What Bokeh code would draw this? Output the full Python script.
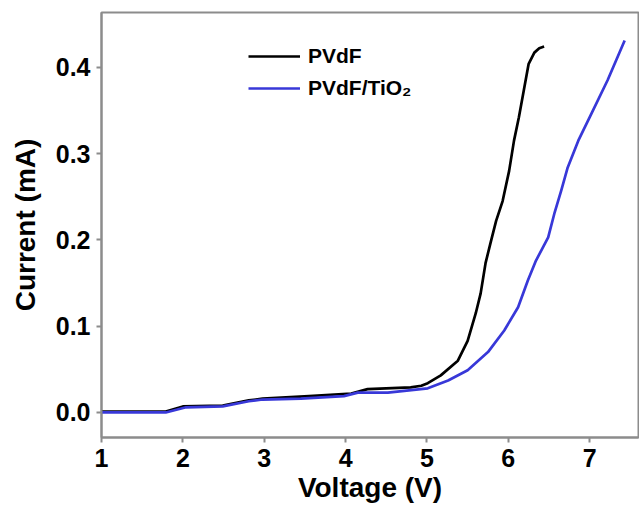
from bokeh.plotting import figure
from bokeh.models import FixedTicker, Legend, LegendItem, Range1d
from bokeh.embed import file_html
from bokeh.resources import INLINE

# Linear sweep voltammetry of the two membranes
pvdf_v = [1.00, 1.79, 2.00, 2.49, 2.81, 2.98, 3.55, 4.07, 4.27, 4.80, 4.93, 5.01,
          5.17, 5.38, 5.50, 5.60, 5.66, 5.72, 5.78, 5.85, 5.93, 6.01, 6.07, 6.13,
          6.19, 6.25, 6.32, 6.38, 6.44]
pvdf_i = [0.001, 0.001, 0.007, 0.008, 0.014, 0.016, 0.019, 0.022, 0.027, 0.029,
          0.031, 0.034, 0.043, 0.060, 0.083, 0.115, 0.138, 0.173, 0.196, 0.222,
          0.245, 0.280, 0.315, 0.342, 0.373, 0.404, 0.417, 0.422, 0.424]

tio2_v = [1.00, 1.79, 2.04, 2.49, 2.81, 2.98, 3.45, 3.98, 4.15, 4.52, 5.01, 5.26,
          5.50, 5.75, 5.95, 6.12, 6.24, 6.34, 6.49, 6.57, 6.65, 6.73, 6.86, 7.02,
          7.22, 7.43]
tio2_i = [0.000, 0.000, 0.006, 0.007, 0.013, 0.015, 0.016, 0.019, 0.023, 0.023,
          0.028, 0.037, 0.049, 0.070, 0.095, 0.122, 0.153, 0.176, 0.203, 0.232,
          0.257, 0.284, 0.315, 0.346, 0.385, 0.431]

x_ticks = [1, 2, 3, 4, 5, 6, 7]
y_ticks = [0.0, 0.1, 0.2, 0.3, 0.4]
y_tick_labels = ["0.0", "0.1", "0.2", "0.3", "0.4"]

FONT = "Liberation Sans"
AXIS_GRAY = "#8c8c8c"

p = figure(width=639, height=511, output_backend="svg", toolbar_location=None,
           x_range=Range1d(1.0, 7.6), y_range=Range1d(-0.029, 0.4635),
           min_border_left=101, min_border_right=1, min_border_top=12,
           min_border_bottom=74)

p.background_fill_color = "white"
p.border_fill_color = "white"
p.outline_line_color = AXIS_GRAY
p.outline_line_width = 2
p.grid.visible = False

r1 = p.line(pvdf_v, pvdf_i, line_color="black", line_width=2.7,
            line_join="round")
r2 = p.line(tio2_v, tio2_i, line_color="#3838d8", line_width=2.7,
            line_join="round")

for ax in (p.xaxis[0], p.yaxis[0]):
    ax.axis_line_color = AXIS_GRAY
    ax.axis_line_width = 2
    ax.major_tick_line_color = AXIS_GRAY
    ax.major_tick_line_width = 2
    ax.major_tick_out = 5
    ax.major_tick_in = 0
    ax.minor_tick_line_color = None
    ax.major_label_text_font = FONT
    ax.major_label_text_font_style = "bold"
    ax.major_label_text_font_size = "25px"
    ax.major_label_text_color = "black"
    ax.axis_label_text_font = FONT
    ax.axis_label_text_font_style = "bold"
    ax.axis_label_text_font_size = "28px"
    ax.axis_label_text_color = "black"

p.xaxis.ticker = FixedTicker(ticks=x_ticks)
p.yaxis.ticker = FixedTicker(ticks=y_ticks)
p.yaxis.major_label_overrides = {t: s for t, s in zip(y_ticks, y_tick_labels)}
p.xaxis.major_label_standoff = 6
p.yaxis.major_label_standoff = 6
p.xaxis.axis_label = "Voltage (V)"
p.yaxis.axis_label = "Current (mA)"
p.xaxis.axis_label_standoff = 2
p.yaxis.axis_label_standoff = 12

legend = Legend(items=[LegendItem(label="PVdF", renderers=[r1]),
                       LegendItem(label="PVdF/TiO\u2082", renderers=[r2])],
                location=(147, 333), orientation="vertical")
legend.border_line_color = None
legend.background_fill_alpha = 0
legend.padding = 0
legend.margin = 0
legend.spacing = 0
legend.glyph_width = 52
legend.glyph_height = 32
legend.label_height = 32
legend.label_standoff = 8
legend.label_text_font = FONT
legend.label_text_font_style = "bold"
legend.label_text_font_size = "21px"
legend.label_text_color = "black"
p.add_layout(legend, "center")

open("out.html", "w").write(file_html(p, INLINE))
